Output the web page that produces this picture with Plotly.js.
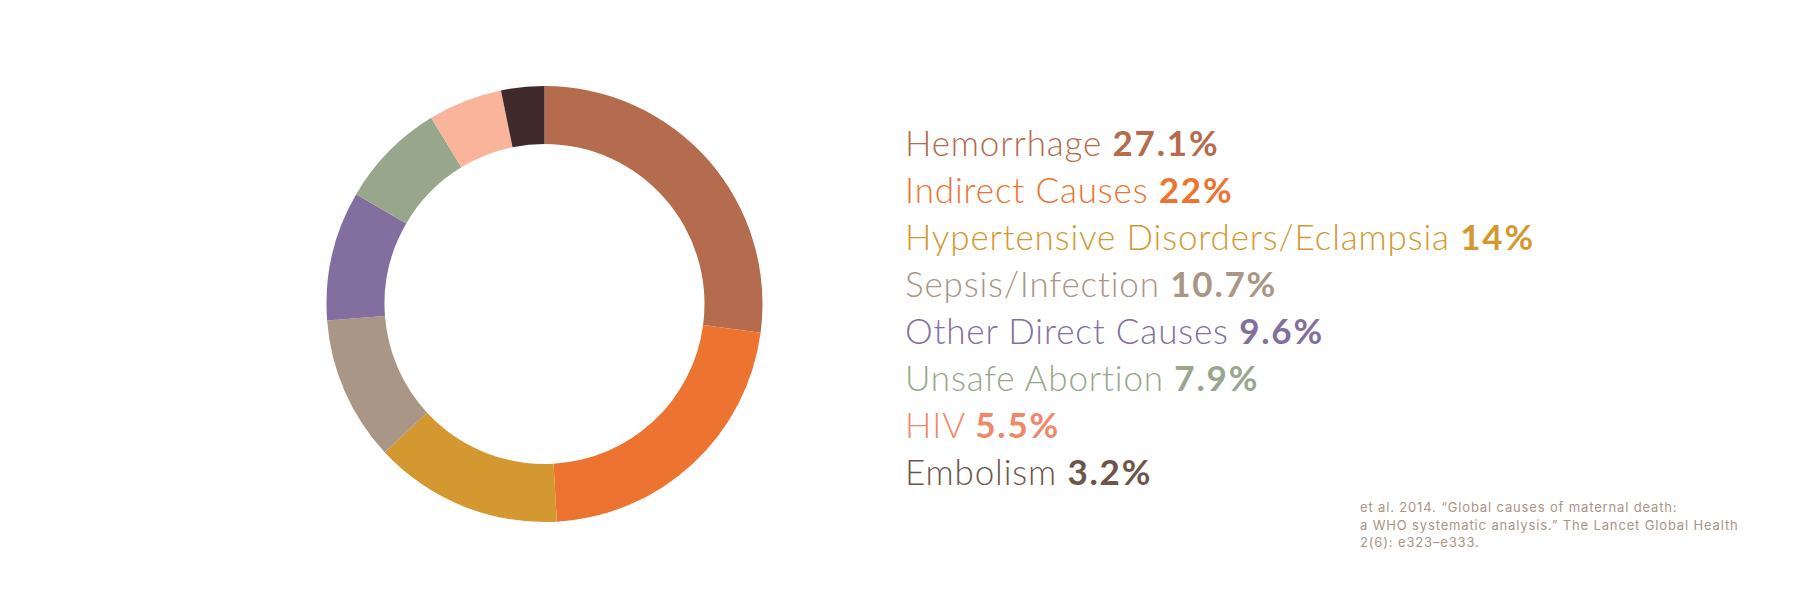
<!DOCTYPE html>
<html>
<head>
<meta charset="utf-8">
<script src="https://cdn.plot.ly/plotly-3.0.1.min.js"></script>
<style>html,body{margin:0;padding:0;background:#fff;}#chart{width:1800px;height:603px;}</style>
</head>
<body>
<div id="chart"></div>
<script>
const causes = ["Hemorrhage", "Indirect Causes", "Hypertensive Disorders/Eclampsia", "Sepsis/Infection", "Other Direct Causes", "Unsafe Abortion", "HIV", "Embolism"];
const shares = [27.1, 22, 14, 10.7, 9.6, 7.9, 5.5, 3.2];
const shareLabels = ["27.1%", "22%", "14%", "10.7%", "9.6%", "7.9%", "5.5%", "3.2%"];
const sliceColors = ["#b56b4d", "#ed7430", "#d49830", "#a99686", "#826fa0", "#98a78c", "#fab49b", "#40292b"];
const textColors = ["#b56b4d", "#ed7430", "#d49830", "#a99686", "#826fa0", "#98a78c", "#f0876a", "#6e5549"];
const sourceLines = [
  "et al. 2014. \u201cGlobal causes of maternal death:",
  "a WHO systematic analysis.\u201d The Lancet Global Health",
  "2(6): e323\u2013e333."
];

const W = 1800, H = 603;
const annotations = [];
const rowTop = 142, rowStep = 47;
causes.forEach((c, i) => {
  annotations.push({
    xref: 'paper', yref: 'paper',
    x: 903 / W, y: 1 - (rowTop + i * rowStep) / H,
    xanchor: 'left', yanchor: 'middle',
    showarrow: false,
    text: '<span style="letter-spacing:0.85px">' + c + ' </span><span style="letter-spacing:1.8px"><b>' + shareLabels[i] + '</b></span>',
    font: {family: 'Lato', size: 35, color: textColors[i], weight: 300}
  });
});
sourceLines.forEach((s, i) => {
  annotations.push({
    xref: 'paper', yref: 'paper',
    x: 1358 / W, y: 1 - (507 + i * 17.5) / H,
    xanchor: 'left', yanchor: 'middle',
    showarrow: false,
    text: '<span style="letter-spacing:0.85px">' + s + '</span>',
    font: {family: 'Inter', size: 13, color: '#a89584'}
  });
});

const data = [{
  type: 'pie',
  labels: causes,
  values: shares,
  hole: 0.734,
  sort: false,
  direction: 'clockwise',
  rotation: 0,
  textinfo: 'none',
  hoverinfo: 'label+percent',
  marker: {colors: sliceColors, line: {width: 0}},
  domain: {x: [326 / W, 763 / W], y: [(H - 522) / H, (H - 86) / H]},
  showlegend: false
}];

const layout = {
  width: W, height: H,
  margin: {l: 0, r: 0, t: 0, b: 0},
  paper_bgcolor: '#ffffff',
  plot_bgcolor: '#ffffff',
  showlegend: false,
  annotations: annotations
};

Plotly.newPlot('chart', data, layout, {displayModeBar: false, staticPlot: true});
</script>
</body>
</html>
